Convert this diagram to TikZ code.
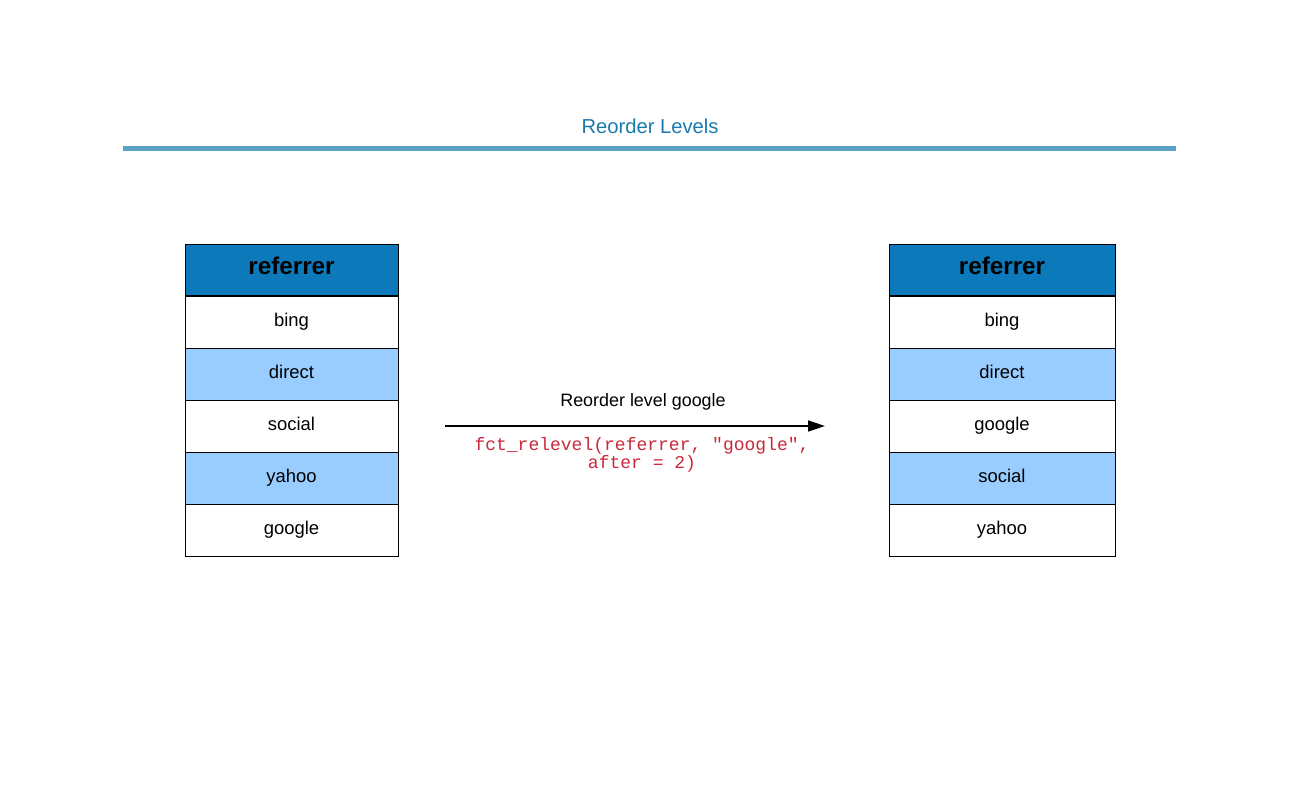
\documentclass[tikz,border=0pt]{standalone}
\usepackage{fontspec}
\setmainfont{Liberation Sans}
\setmonofont{Liberation Mono}
\usetikzlibrary{arrows.meta}

\definecolor{titleblue}{HTML}{1A7AB0}
\definecolor{rulecol}{HTML}{5BA3C6}
\definecolor{headblue}{HTML}{0C79BA}
\definecolor{rowblue}{HTML}{99CCFF}
\definecolor{codered}{HTML}{C8283A}

\tikzset{
  cell/.style={draw, inner sep=0pt, minimum height=1.04cm,
    text height=0.72em, text depth=0.2em,
    font=\fontsize{10.5}{12}\selectfont},
  headcell/.style={cell, fill=headblue, text depth=0.24em,
    font=\fontsize{13.8}{16}\selectfont\bfseries},
}

\begin{document}
\begin{tikzpicture}[x=0.02cm, y=-0.02cm]
\useasboundingbox (0,0) rectangle (1300,800);

\node[text=titleblue, font=\fontsize{11.5}{14}\selectfont] (title) at (650,126) {Reorder Levels};
\draw[rulecol, line width=0.1cm] (123,149) -- (1176,149);

% before
\node[headcell, minimum width=4.26cm] (l_h) at (291.5,270) {referrer};
\foreach \i/\j/\c in%
    {0/bing/white,
     1/direct/rowblue,
     2/social/white,
     3/yahoo/rowblue,
     4/google/white} {
  \node[cell, fill=\c, minimum width=4.26cm] (l_\i) at (291.5,{322+52*\i}) {\j};
}
\draw[line width=1.2pt] (l_h.south west) -- (l_h.south east);

% after
\node[headcell, minimum width=4.52cm] (r_h) at (1002,270) {referrer};
\foreach \i/\j/\c in%
    {0/bing/white,
     1/direct/rowblue,
     2/google/white,
     3/social/rowblue,
     4/yahoo/white} {
  \node[cell, fill=\c, minimum width=4.52cm] (r_\i) at (1002,{322+52*\i}) {\j};
}
\draw[line width=1.2pt] (r_h.south west) -- (r_h.south east);

\coordinate (from) at (445,426);
\coordinate (to) at (825,426);
\draw[line width=0.9pt, -{Triangle[length=0.34cm, width=0.22cm]}] (from) -- (to);
\node[font=\fontsize{10.2}{12}\selectfont] (lbl) at (643,402) {Reorder level google};
\node[text=codered, align=center, inner sep=0pt, font=\ttfamily\fontsize{10.25}{10.2}\selectfont] (code) at (642,455)
  {fct\_relevel(referrer, "google",\\after = 2)};

\end{tikzpicture}
\end{document}
